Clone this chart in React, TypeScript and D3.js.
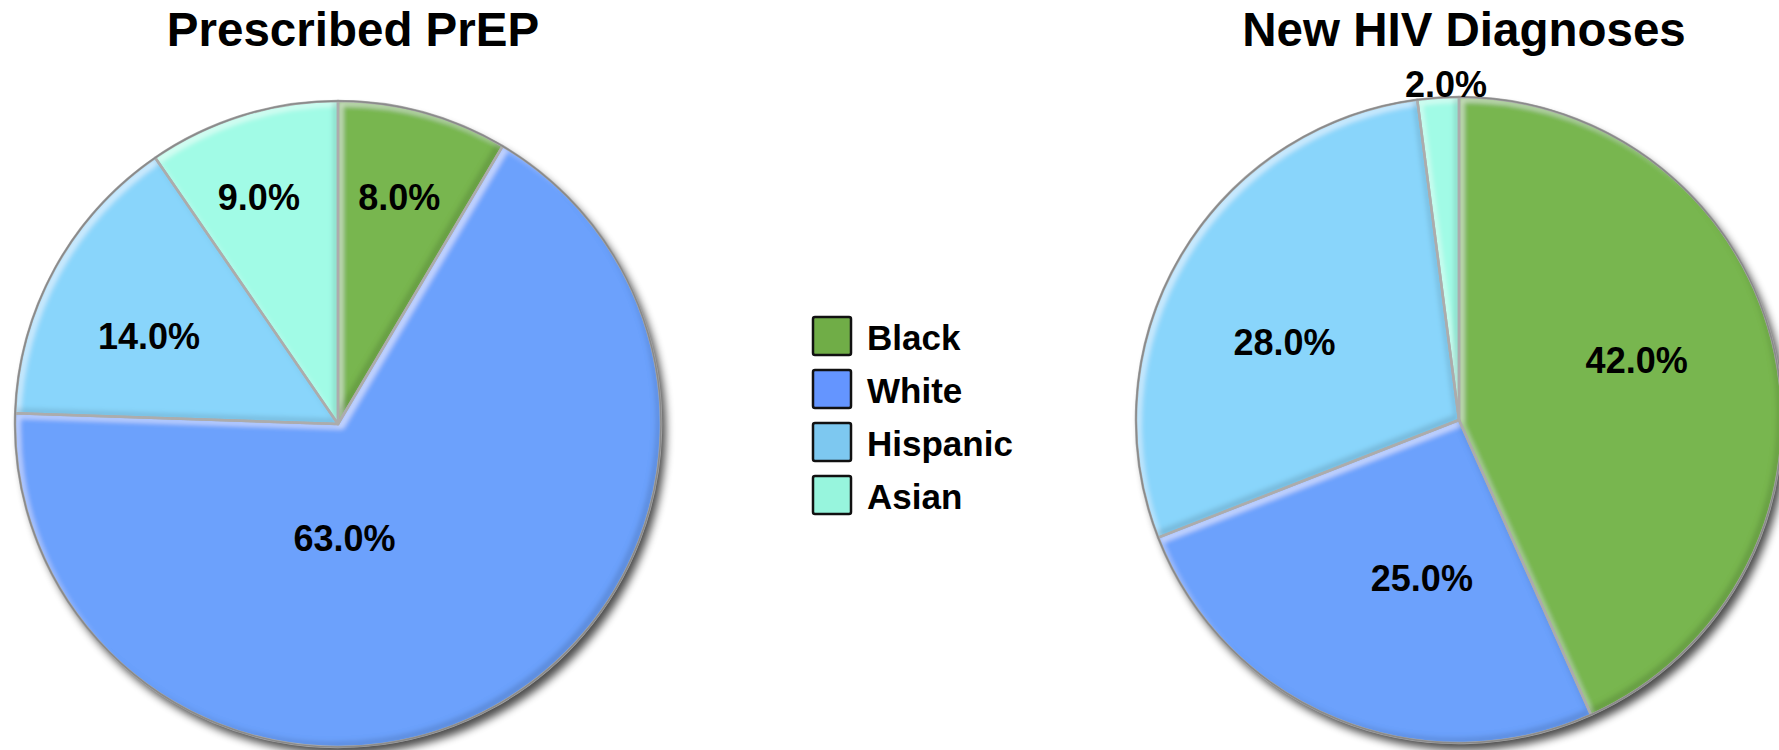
import React from "react";
import * as d3 from "d3";

const categories = ["Black", "White", "Hispanic", "Asian"];
const prepValues = [8, 63, 14, 9];
const diagnosesValues = [42, 25, 28, 2];
const chartTitles = ["Prescribed PrEP", "New HIV Diagnoses"];
const sliceColors = ["#78B650", "#6CA1FC", "#89D5FB", "#A1FBE6"];
const legendColors = ["#70AD47", "#6495FF", "#7DC8F0", "#97F5DD"];

// layout (not data): pie centres, radius and label placement as fractions of the radius
const W = 1779;
const H = 750;
const R = 323;
const layout = [
  { cx: 338, cy: 424, titleX: 353, labelPos: [[0.19, -0.70], [0.02, 0.355], [-0.585, -0.27], [-0.245, -0.70]] },
  { cx: 1459, cy: 420, titleX: 1464, labelPos: [[0.55, -0.185], [-0.115, 0.49], [-0.54, -0.24], [-0.04, -1.04]] },
];
const FONT = "'Liberation Sans', Arial, Helvetica, sans-serif";
const fmt = d3.format(".1f");

function Pie({ values, idx }: { values: number[]; idx: number }) {
  const L = layout[idx];
  const pie = d3.pie<number>().sort(null).value((d) => d);
  const arcs = pie(values);
  const arc = d3.arc<d3.PieArcDatum<number>>().innerRadius(0).outerRadius(R);
  return (
    <g>
      <text
        x={L.titleX}
        y={46}
        textAnchor="middle"
        fontFamily={FONT}
        fontWeight="bold"
        fontSize={47.5}
        fill="#000"
      >
        {chartTitles[idx]}
      </text>
      <g transform={`translate(${L.cx},${L.cy})`}>
        <circle cx={5} cy={7} r={R} fill="#000" opacity={0.7} filter="url(#pieShadow)" />
        {arcs.map((a, i) => (
          <path key={"f" + i} d={arc(a) || ""} fill={sliceColors[i]} filter="url(#bevel)" />
        ))}
        {arcs.map((a, i) => (
          <path key={"s" + i} d={arc(a) || ""} fill="none" stroke="#acacac" strokeWidth={2.5} strokeLinejoin="round" />
        ))}
        <circle r={R} fill="none" stroke="#8a8a8a" strokeWidth={1.5} />
        {arcs.map((a, i) => (
          <text
            key={"l" + i}
            x={L.labelPos[i][0] * R}
            y={L.labelPos[i][1] * R}
            textAnchor="middle"
            dominantBaseline="central"
            fontFamily={FONT}
            fontWeight="bold"
            fontSize={36}
            fill="#000"
          >
            {fmt(a.data) + "%"}
          </text>
        ))}
      </g>
    </g>
  );
}

function Legend() {
  const x0 = 813;
  const y0 = 317;
  const step = 53;
  const box = 38;
  return (
    <g>
      {categories.map((c, i) => (
        <g key={c} transform={`translate(${x0},${y0 + i * step})`}>
          <rect x={0} y={0} width={box} height={box} rx={2} fill={legendColors[i]} stroke="#111" strokeWidth={2.5} />
          <text x={54} y={33} fontFamily={FONT} fontWeight="bold" fontSize={35} fill="#000">
            {c}
          </text>
        </g>
      ))}
    </g>
  );
}

export default function App() {
  return (
    <svg
      width={W}
      height={H}
      viewBox={`0 0 ${W} ${H}`}
      style={{ position: "absolute", left: 0, top: 0, background: "#fff" }}
    >
      <defs>
        <filter id="pieShadow" x="-10%" y="-10%" width="120%" height="120%">
          <feGaussianBlur stdDeviation={4} />
        </filter>
        <filter id="bevel" x="-5%" y="-5%" width="110%" height="110%">
          <feOffset in="SourceAlpha" dx={5} dy={5} result="offA" />
          <feComposite in="SourceAlpha" in2="offA" operator="out" result="tlBand" />
          <feGaussianBlur in="tlBand" stdDeviation={2.5} result="tlBlur" />
          <feFlood floodColor="#ffffff" floodOpacity={0.5} result="white" />
          <feComposite in="white" in2="tlBlur" operator="in" result="hl" />
          <feOffset in="SourceAlpha" dx={-5} dy={-5} result="offB" />
          <feComposite in="SourceAlpha" in2="offB" operator="out" result="brBand" />
          <feGaussianBlur in="brBand" stdDeviation={2.5} result="brBlur" />
          <feFlood floodColor="#000000" floodOpacity={0.28} result="black" />
          <feComposite in="black" in2="brBlur" operator="in" result="sh" />
          <feMerge result="m">
            <feMergeNode in="SourceGraphic" />
            <feMergeNode in="hl" />
            <feMergeNode in="sh" />
          </feMerge>
          <feComposite in="m" in2="SourceAlpha" operator="in" />
        </filter>
      </defs>
      <Pie values={prepValues} idx={0} />
      <Pie values={diagnosesValues} idx={1} />
      <Legend />
    </svg>
  );
}
